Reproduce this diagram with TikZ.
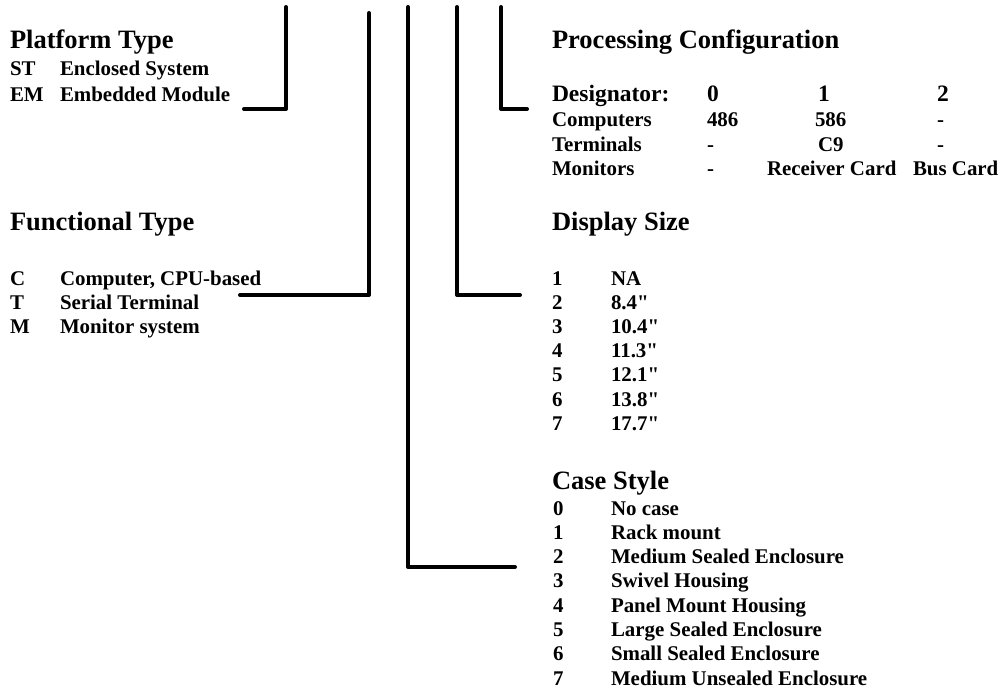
\documentclass[tikz,border=0pt]{standalone}
\usepackage{fontspec}
\setmainfont{Liberation Serif}
\newfontfamily\plainqfont{Liberation Serif}[Ligatures=TeXOff]
\newcommand{\inchmark}{{\plainqfont\bfseries\char34}}
\begin{document}
\begin{tikzpicture}[x=1pt,y=-1pt,
  txt/.style={anchor=base west, inner sep=0pt, outer sep=0pt, font=\fontsize{20.9}{24}\selectfont\bfseries},
  hd/.style={anchor=base west, inner sep=0pt, outer sep=0pt, font=\fontsize{26.5}{30}\selectfont\bfseries},
  dg/.style={anchor=base west, inner sep=0pt, outer sep=0pt, font=\fontsize{23.5}{27}\selectfont\bfseries},
  leader/.style={line width=4pt, line cap=round, line join=round}]
\useasboundingbox (0,0) rectangle (1007,691);

% ---------- Platform Type ----------
\node[hd] (pt) at (10,48) {Platform Type};
\node[txt] (ptk1) at (10,75) {ST};
\node[txt] (ptv1) at (60,75) {Enclosed System};
\node[txt] (ptk2) at (10,101) {EM};
\node[txt] (ptv2) at (60,101) {Embedded Module};

% ---------- Functional Type ----------
\node[hd] (ft) at (10,230) {Functional Type};
\node[txt] (ftk1) at (10,285) {C};
\node[txt] (ftv1) at (60,285) {Computer, CPU-based};
\node[txt] (ftk2) at (10,309) {T};
\node[txt] (ftv2) at (60,309) {Serial Terminal};
\node[txt] (ftk3) at (10,333) {M};
\node[txt] (ftv3) at (60,333) {Monitor system};

% ---------- Processing Configuration ----------
\node[hd] (pc) at (552,48) {Processing Configuration};
\node[dg] (pcd) at (552,101) {Designator:};
\node[dg] (pcd0) at (707,101) {0};
\node[dg] (pcd1) at (818,101) {1};
\node[dg] (pcd2) at (937,101) {2};
\node[txt] (pcc) at (552,126.5) {Computers};
\node[txt] (pcc0) at (707,126.5) {486};
\node[txt] (pcc1) at (815,126.5) {586};
\node[txt] (pcc2) at (937,126.5) {-};
\node[txt] (pct) at (552,151) {Terminals};
\node[txt] (pct0) at (707,151) {-};
\node[txt] (pct1) at (818,151) {C9};
\node[txt] (pct2) at (937,151) {-};
\node[txt] (pcm) at (552,175) {Monitors};
\node[txt] (pcm0) at (707,175) {-};
\node[txt] (pcm1) at (767,175) {Receiver Card};
\node[txt] (pcm2) at (913,175) {Bus Card};

% ---------- Display Size ----------
\node[hd] (ds) at (552,230) {Display Size};
\foreach \k/\v [count=\i from 0] in {1/NA,2/8.4\inchmark,3/10.4\inchmark,4/11.3\inchmark,5/12.1\inchmark,6/13.8\inchmark,7/17.7\inchmark}{
  \node[txt] (dsk\i) at (552,285+24.2*\i) {\k};
  \node[txt] (dsv\i) at (611,285+24.2*\i) {\v};
}

% ---------- Case Style ----------
\node[hd] (cs) at (552,489) {Case Style};
\foreach \k/\v [count=\i from 0] in {0/No case,1/Rack mount,2/Medium Sealed Enclosure,3/Swivel Housing,4/Panel Mount Housing,5/Large Sealed Enclosure,6/Small Sealed Enclosure,7/Medium Unsealed Enclosure}{
  \node[txt] (csk\i) at (553,515+24.3*\i) {\k};
  \node[txt] (csv\i) at (611,515+24.3*\i) {\v};
}

% ---------- Leader lines ----------
\coordinate (t1) at (286,7);   \coordinate (c1) at (286,109); \coordinate (e1) at (244,109);
\coordinate (t2) at (369,13);  \coordinate (c2) at (369,295); \coordinate (e2) at (240,295);
\coordinate (t3) at (408,7);   \coordinate (c3) at (408,567); \coordinate (e3) at (515,567);
\coordinate (t4) at (457,7);   \coordinate (c4) at (457,295); \coordinate (e4) at (520,295);
\coordinate (t5) at (501,7);   \coordinate (c5) at (501,109); \coordinate (e5) at (527,109);
\draw[leader] (t1) -- (c1) -- (e1);
\draw[leader] (t2) -- (c2) -- (e2);
\draw[leader] (t3) -- (c3) -- (e3);
\draw[leader] (t4) -- (c4) -- (e4);
\draw[leader] (t5) -- (c5) -- (e5);
\end{tikzpicture}
\end{document}
